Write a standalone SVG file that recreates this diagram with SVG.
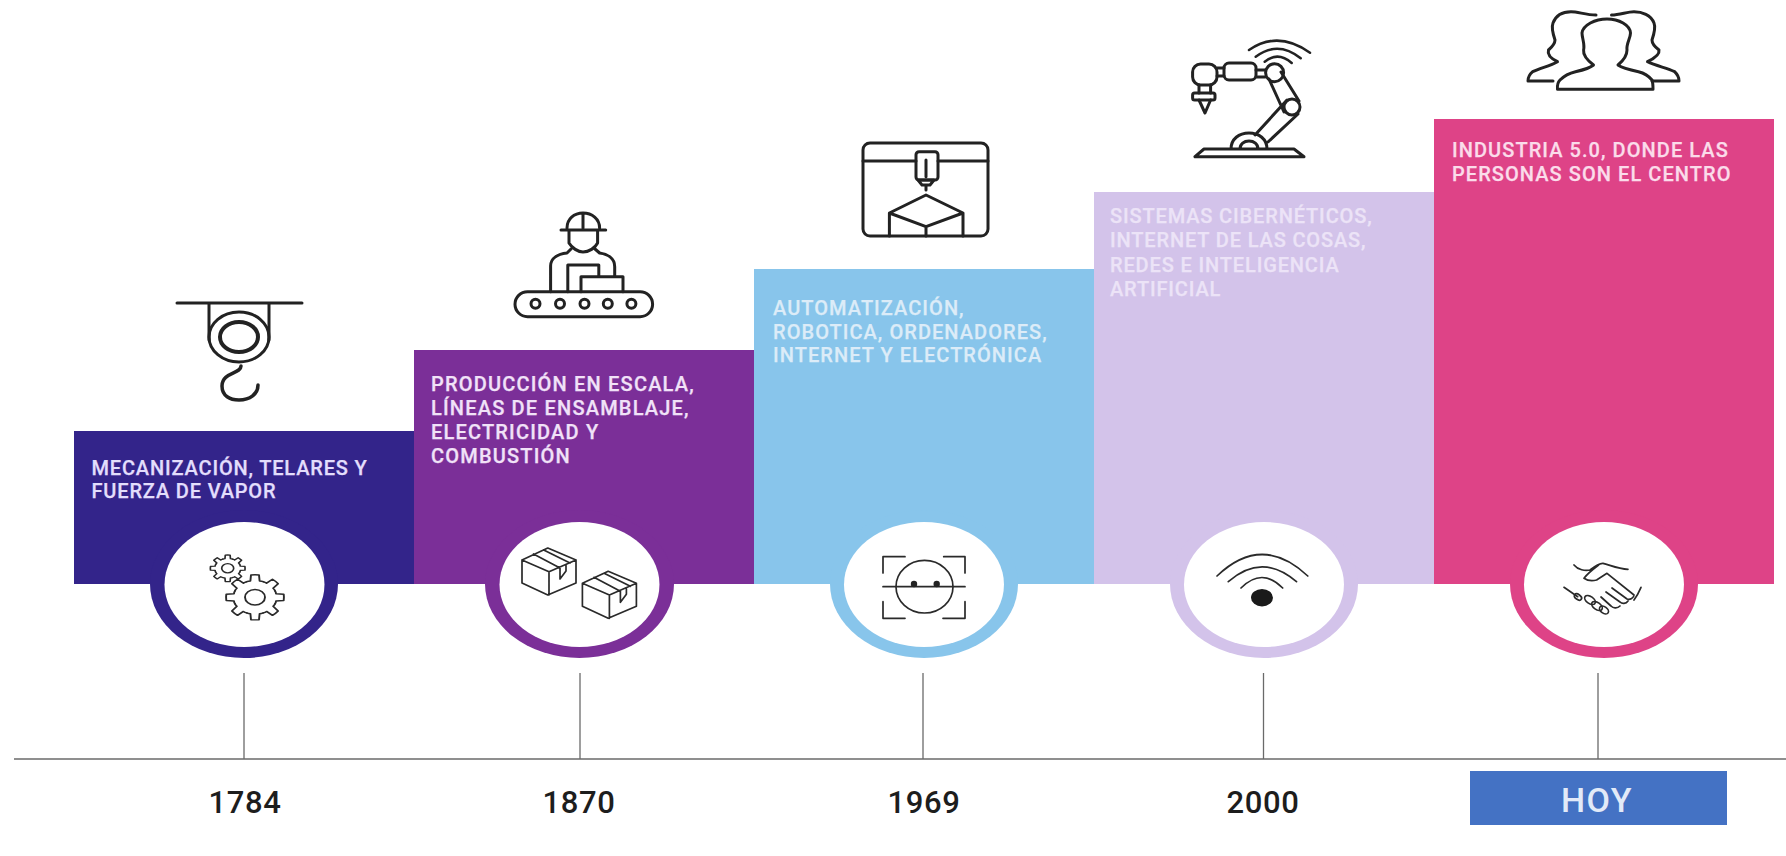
<svg xmlns="http://www.w3.org/2000/svg" width="1786" height="856" viewBox="0 0 1786 856">
<style>
.t{font-family:Roboto,"Liberation Sans",sans-serif;font-weight:500;font-size:20px;stroke-width:.25px}
.y{font-family:Roboto,"Liberation Sans",sans-serif;font-weight:500;font-size:31px;fill:#1d1d1d;text-anchor:middle;letter-spacing:.6px}
.i{fill:none;stroke:#222;stroke-width:3;stroke-linecap:round;stroke-linejoin:round}
.n{fill:none;stroke:#2a2a2a;stroke-width:1.7;stroke-linecap:round;stroke-linejoin:round}
.c{stroke:#6a6a6a;stroke-width:1.3;fill:none}
</style>
<defs>
<path id="tooth" d="M20-8.300Q21-6.500 21-4.600L28.700-4Q29.200 0 28.700 4L21 4.600Q21 6.500 20 8.300"/>
<g id="gear"><use href="#tooth"/><use href="#tooth" transform="rotate(45)"/><use href="#tooth" transform="rotate(90)"/><use href="#tooth" transform="rotate(135)"/><use href="#tooth" transform="rotate(180)"/><use href="#tooth" transform="rotate(225)"/><use href="#tooth" transform="rotate(270)"/><use href="#tooth" transform="rotate(315)"/></g>
<g id="box"><path d="M547.800 548L576 560V583L547.800 595L522 583V560ZM522 560L549 571.700V595M549 571.700L576 560M533.500 554L560 568V579L566 571V565.500M543.700 550L570 563"/></g>
</defs>
<rect width="1786" height="856" fill="#fff"/>

<g id="connectors">
<line class="c" x1="14" y1="759" x2="1786" y2="759"/>
<line class="c" x1="244" y1="673" x2="244" y2="759"/>
<line class="c" x1="580" y1="673" x2="580" y2="759"/>
<line class="c" x1="923" y1="673" x2="923" y2="759"/>
<line class="c" x1="1263.500" y1="673" x2="1263.500" y2="759"/>
<line class="c" x1="1598" y1="673" x2="1598" y2="759" stroke-width="2"/>
</g>

<g id="stage-1784">
<rect x="74" y="431" width="340" height="153" fill="#33248a"/>
<ellipse cx="244" cy="584" rx="94" ry="74" fill="#33248a"/>
<ellipse cx="244.500" cy="584.500" rx="80" ry="62.500" fill="#fff"/>
<text class="t" fill="#e3defc" stroke="#e3defc" letter-spacing=".84"><tspan x="91.500" y="474.500">MECANIZACIÓN, TELARES Y</tspan><tspan x="91.500" y="498">FUERZA DE VAPOR</tspan></text>
<g class="i"><path d="M177 303H302M209 303V340M269 303V340"/><ellipse cx="239" cy="337" rx="30" ry="25"/><ellipse cx="239" cy="337" rx="19" ry="15" stroke-width="4"/><path d="M241 366C241 374 222 372 222 386C222 396 230 400 239 400C250 400 258 394 258 385" stroke-width="3.500"/></g>
<g class="n"><g transform="translate(227.700 568.300) scale(.6 .46)" stroke-width="2.800"><use href="#gear"/><circle r="10"/></g><g transform="translate(255 597.300) scale(1 .78)" stroke-width="1.900"><use href="#gear"/><circle r="10"/></g></g>
</g>

<g id="stage-1870">
<rect x="414" y="350" width="340" height="234" fill="#7b2f98"/>
<ellipse cx="579.500" cy="584" rx="94.500" ry="74" fill="#7b2f98"/>
<ellipse cx="579.500" cy="584.500" rx="80" ry="62.500" fill="#fff"/>
<text class="t" fill="#f1e2f8" stroke="#f1e2f8" letter-spacing="1.190"><tspan x="431" y="391">PRODUCCIÓN EN ESCALA,</tspan><tspan x="431" y="415">LÍNEAS DE ENSAMBLAJE,</tspan><tspan x="431" y="439">ELECTRICIDAD Y</tspan><tspan x="431" y="463">COMBUSTIÓN</tspan></text>
<g class="i"><rect x="515" y="291.700" width="137.600" height="25" rx="12.500"/><circle cx="535.500" cy="303.700" r="4.500"/><circle cx="560" cy="303.700" r="4.500"/><circle cx="584.500" cy="303.700" r="4.500"/><circle cx="607.800" cy="303.700" r="4.500"/><circle cx="631.400" cy="303.700" r="4.500"/><path d="M581 291.700V276.700H623V291.700M550.600 291.700V266C550.600 258 558 254 567 253L571 249M614.700 276.700V266.700C614.700 258 607 254 599.600 253L595 249M567.800 291.700V265H598.800V276.700M569 230V243C572 248 578 252 583 252C589 252 595 248 597.600 243V230M561 230H605.700M567 228C567 219 574 213 583 213C592 213 599.600 219 599.600 228M583 213V228"/></g>
<g class="n"><use href="#box"/><use href="#box" transform="translate(60.400 23.300)"/></g>
</g>

<g id="stage-1969">
<rect x="754" y="269" width="340" height="315" fill="#88c5eb"/>
<ellipse cx="924" cy="584" rx="94" ry="74" fill="#88c5eb"/>
<ellipse cx="924" cy="584.500" rx="80" ry="62.500" fill="#fff"/>
<text class="t" fill="#dcecf8" stroke="#dcecf8" letter-spacing="1.050"><tspan x="773" y="315">AUTOMATIZACIÓN,</tspan><tspan x="773" y="338.500">ROBOTICA, ORDENADORES,</tspan><tspan x="773" y="362">INTERNET Y ELECTRÓNICA</tspan></text>
<g class="i"><rect x="863" y="143" width="125" height="93" rx="7"/><path d="M863 161H916M938 161H988M926 160V176.700M918 180H934L930 185H922ZM926 185V190M926 195L963 213L926 226.700L889.400 213ZM889.400 213V236M963 213V236M926 226.700V236"/><rect x="916" y="151.700" width="22" height="28.300" rx="3"/></g>
<g class="n" stroke-width="2.200"><path d="M883 573V556.700H905M943.700 556.700H965V573M883 601.700V618.300H905M943 618.300H965V601.700M883 586.700H965"/><ellipse cx="924.500" cy="586.700" rx="28.500" ry="26.300"/></g>
<circle cx="914" cy="584" r="3.200" fill="#222"/><circle cx="936.700" cy="584" r="3.200" fill="#222"/>
</g>

<g id="stage-2000">
<rect x="1094" y="192" width="340" height="392" fill="#d3c3ea"/>
<ellipse cx="1264" cy="584" rx="94" ry="74" fill="#d3c3ea"/>
<ellipse cx="1264" cy="584.500" rx="80" ry="62.500" fill="#fff"/>
<text class="t" fill="#ece3f7" stroke="#ece3f7" letter-spacing=".86"><tspan x="1110" y="223">SISTEMAS CIBERNÉTICOS,</tspan><tspan x="1110" y="247">INTERNET DE LAS COSAS,</tspan><tspan x="1110" y="272">REDES E INTELIGENCIA</tspan><tspan x="1110" y="296">ARTIFICIAL</tspan></text>
<g class="i"><path d="M1195 156.700H1304L1294 149H1204ZM1231 149C1231 139 1239 133 1249 133C1259 133 1267 139 1267 149M1240 149C1240 144 1244 141 1249 141C1254 141 1258 144 1258 149M1255 135L1287 100M1268 142L1298 114M1284 112L1269 79M1299 101L1281 72"/><circle cx="1292" cy="107" r="8"/><circle cx="1274.600" cy="72.700" r="9"/><rect x="1224" y="63" width="32" height="17" rx="5"/><path d="M1256 70H1265M1256 77H1265M1217 68H1224M1217 76H1224M1199 85V93M1210.600 85V93M1199 100L1205 113L1210.600 100"/><rect x="1192.600" y="64" width="24.400" height="21" rx="8"/><rect x="1192.600" y="93" width="22.400" height="7" rx="2"/><path d="M1249 50Q1278 30 1310 52.700M1255.700 56.700Q1278 40 1300.700 58.300M1264.700 61.700Q1278 51 1291.700 63" stroke-width="2.500"/></g>
<g class="n" stroke-width="2.400"><path d="M1217 576Q1262 533 1307.800 576M1228.300 581.700Q1262 552 1296.500 581.700M1241 588Q1262 567 1282.700 588"/></g>
<ellipse cx="1262" cy="597.700" rx="11" ry="8.700" fill="#1a1a1a"/>
</g>

<g id="stage-hoy">
<rect x="1434" y="119" width="340" height="465" fill="#de4387"/>
<ellipse cx="1604" cy="584" rx="94" ry="74" fill="#de4387"/>
<ellipse cx="1604" cy="584.500" rx="80" ry="62.500" fill="#fff"/>
<text class="t" fill="#fbdcea" stroke="#fbdcea" letter-spacing="1.060"><tspan x="1452" y="157">INDUSTRIA 5.0, DONDE LAS</tspan><tspan x="1452" y="181">PERSONAS SON EL CENTRO</tspan></text>
<g class="i" stroke-width="3.200"><path d="M1557.500 89.300C1557 84 1558 82 1560 80C1565 75 1570 73 1575.500 71.700C1583 70 1590 68 1593.500 65C1587 60 1583 55 1583.600 50C1585 44 1582 38 1582 33C1583 25 1595 19 1607 19C1619 19 1630 25 1630.500 33C1630.500 38 1626 44 1627 50C1627 55 1624 60 1618 65C1622 68 1630 70 1638.500 71.700C1644 73 1648 75 1652 80C1653 83 1653 85 1653 89.300Z"/><path d="M1553 81H1528C1528 77 1530 74 1532.700 71.700C1540 68 1550 66 1557.500 61.700C1552 59 1547 55 1548.500 50C1552 47 1555 44 1555 40C1553 34 1551 28 1553 23C1556 15 1563 11.700 1571 11.700C1578 11.700 1586 15 1596 15"/><path d="M1652 81H1679C1679 77 1677 74 1674.600 71.700C1667 68 1656 66 1647.500 61.700C1653 59 1660 55 1659 50C1655 47 1652 44 1652 40C1654 34 1656 28 1654 23C1651 15 1642 11.700 1634 11.700C1627 11.700 1620 15 1611.500 15"/></g>
<g class="n" stroke-width="1.800"><path d="M1574 565C1578 570 1585 571 1590 570C1595 566 1599 563 1603 563.300C1610 565 1618 569 1628 569.300M1598.600 565C1592 570 1587 574 1584 578.300C1588 581 1593 581 1596.600 580L1607 573.300L1634 595C1634 598 1630 600 1627 599L1612 588M1628 601C1626 604 1622 604 1620 602L1606 592M1620 606C1617 609 1613 608 1611 606L1601 597M1641 587.300C1639 592 1637 596 1634 600M1564 587.300L1577.700 596.700"/><ellipse cx="1578" cy="597" rx="4" ry="2.500" transform="rotate(35 1578 597)"/><ellipse cx="1590" cy="600" rx="6" ry="3.500" transform="rotate(35 1590 600)"/><ellipse cx="1597" cy="606" rx="6" ry="3.500" transform="rotate(35 1597 606)"/><ellipse cx="1604" cy="610" rx="5" ry="3.200" transform="rotate(35 1604 610)"/></g>
<rect x="1470" y="771" width="257" height="54" fill="#4472c4"/>
</g>

<g id="years">
<text class="y" x="245" y="813">1784</text>
<text class="y" x="579" y="813">1870</text>
<text class="y" x="924" y="813">1969</text>
<text class="y" x="1263" y="813">2000</text>
<text class="y" x="1597" y="812" style="fill:#e2eaf8;font-size:34px;letter-spacing:1.500px">HOY</text>
</g>
</svg>
